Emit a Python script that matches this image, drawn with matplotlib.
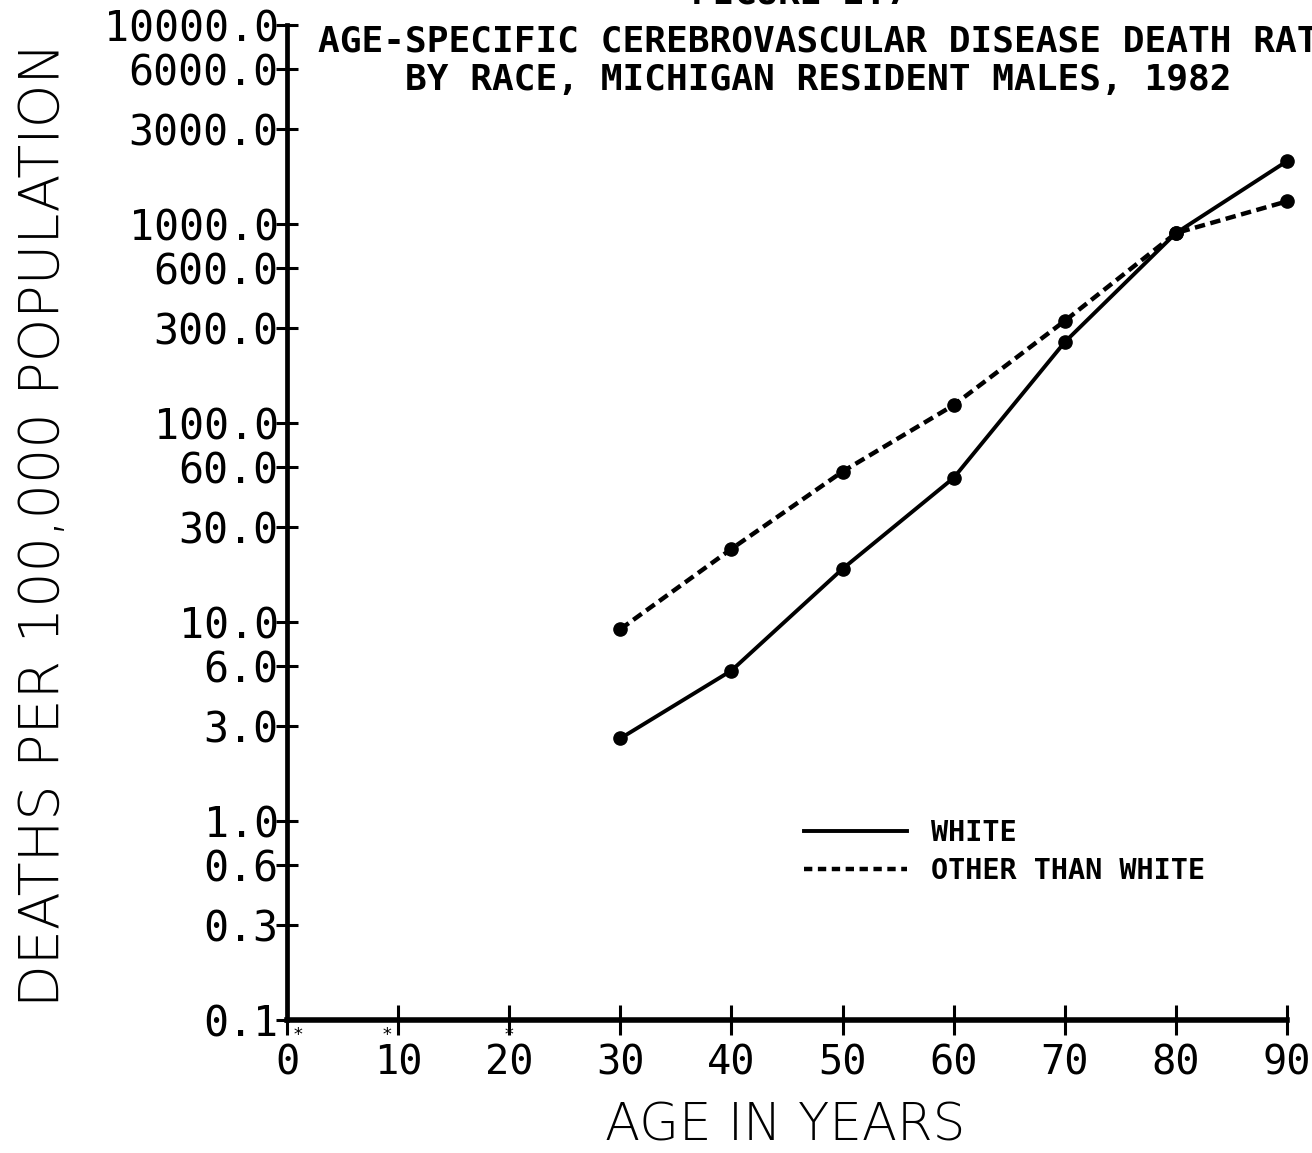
"""
Age-specific cerebrovascular disease death rates by race,
Michigan resident males, 1982 (redrawn from a plotter figure).
"""

import matplotlib
matplotlib.use("Agg")
import matplotlib.pyplot as plt
from matplotlib.lines import Line2D
from matplotlib.ticker import FixedLocator, FixedFormatter
import matplotlib.transforms as mtransforms

# data (deaths per 100,000)
ages = [30, 40, 50, 60, 70, 80, 90]
white_rates = [2.6, 5.7, 18.5, 53, 255, 900, 2070]
other_rates = [9.2, 23.3, 57, 123, 326, 900, 1300]

# ages marked with "*" under the axis
star_ages = [1, 9, 20]

y_ticks = [0.1, 0.3, 0.6, 1, 3, 6, 10, 30, 60, 100, 300, 600, 1000, 3000, 6000, 10000]
y_tick_labels = ["%.1f" % v for v in y_ticks]
x_ticks = [0, 10, 20, 30, 40, 50, 60, 70, 80, 90]
x_tick_labels = [str(v) for v in x_ticks]

plt.rcParams['lines.scale_dashes'] = False
MONO = "DejaVu Sans Mono"
DASH = (7.5, 4)

fig = plt.figure(figsize=(13.12, 11.53), dpi=100, facecolor='white')
ax = fig.add_axes([287 / 1312, 1 - 1020 / 1153, 1000 / 1312, 995 / 1153])

ax.set_yscale('log')
ax.set_xlim(0, 90)
ax.set_ylim(0.1, 10000)

ax.plot(ages, white_rates, color='black', lw=2.8, marker='o', ms=9.5,
        solid_joinstyle='round', clip_on=False, zorder=3)
ax.plot(ages, other_rates, color='black', lw=3.2, dashes=DASH, marker='o', ms=9.5,
        clip_on=False, zorder=3)

# axes styling
for side in ('top', 'right'):
    ax.spines[side].set_visible(False)
ax.spines['left'].set_linewidth(3.4)
ax.spines['bottom'].set_linewidth(4)

ax.yaxis.set_major_locator(FixedLocator(y_ticks))
ax.yaxis.set_major_formatter(FixedFormatter(y_tick_labels))
ax.yaxis.set_minor_locator(FixedLocator([]))
ax.xaxis.set_major_locator(FixedLocator(x_ticks))
ax.xaxis.set_major_formatter(FixedFormatter(x_tick_labels))

ax.tick_params(axis='y', direction='inout', length=16, width=2.2, pad=-2,
               labelsize=30)
ax.tick_params(axis='x', direction='inout', length=22, width=2.2, pad=6,
               labelsize=29)
for lab in ax.get_xticklabels() + ax.get_yticklabels():
    lab.set_family(MONO)

# asterisks just below the axis
trans = mtransforms.blended_transform_factory(ax.transData, ax.transAxes)
for a in star_ages:
    ax.text(a, -0.006, "*", transform=trans, ha='center', va='top',
            fontsize=13, family=MONO)

# axis labels
ax.set_ylabel("DEATHS PER 100,000 POPULATION", fontsize=40,
              fontweight='light', family='DejaVu Sans')
ax.yaxis.set_label_coords(-0.216, 0.4975)
ax.set_xlabel("AGE IN YEARS", fontsize=37, fontweight='light',
              family='DejaVu Sans')
ax.xaxis.set_label_coords(0.498, -0.082)

# title lines (the original is cut off at the page edge)
fig.text(800 / 1312, 1.006, "FIGURE 2.7", ha='center', va='center', fontsize=26,
         family=MONO, fontweight='bold')
fig.text(318 / 1312, 1 - 42 / 1153,
         "AGE-SPECIFIC CEREBROVASCULAR DISEASE DEATH RATES",
         ha='left', va='center', fontsize=26, family=MONO, fontweight='bold')
fig.text(818 / 1312, 1 - 80 / 1153,
         "BY RACE, MICHIGAN RESIDENT MALES, 1982",
         ha='center', va='center', fontsize=26, family=MONO, fontweight='bold')

# legend
handles = [Line2D([], [], color='black', lw=2.8),
           Line2D([], [], color='black', lw=3.2, dashes=(6, 4))]
leg = ax.legend(handles, ["WHITE", "OTHER THAN WHITE"], loc='upper left',
                bbox_to_anchor=(0.517, 0.202), frameon=False, borderpad=0,
                borderaxespad=0, handlelength=3.6, handletextpad=0.85,
                labelspacing=0.35, prop={'family': MONO, 'weight': 'bold',
                                         'size': 20.5})

fig.savefig("out.png", dpi=100, facecolor='white')
